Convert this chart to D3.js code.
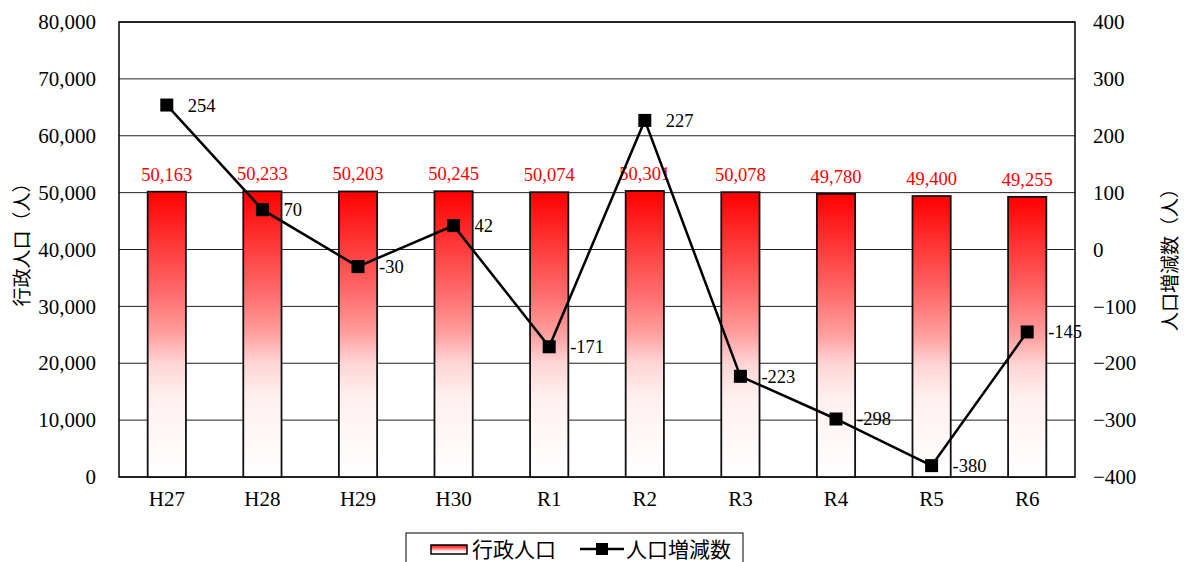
<!DOCTYPE html>
<html>
<head>
  <meta charset="utf-8">
  <title>行政人口と人口増減数</title>
  <style>
    body { margin: 0; background: #fff; }
  </style>
</head>
<body>
  <svg width="1185" height="562"></svg>

  <script src="https://cdn.jsdelivr.net/npm/d3@7/dist/d3.min.js"></script>
  <script type="text/javascript">
    var years = ['H27', 'H28', 'H29', 'H30', 'R1', 'R2', 'R3', 'R4', 'R5', 'R6']
    var population = [50163, 50233, 50203, 50245, 50074, 50301, 50078, 49780, 49400, 49255]
    var change = [254, 70, -30, 42, -171, 227, -223, -298, -380, -145]
    var leftTicks = [0, 10000, 20000, 30000, 40000, 50000, 60000, 70000, 80000]
    var rightTicks = [-400, -300, -200, -100, 0, 100, 200, 300, 400]

    var svg = d3.select('svg'),
      margin = {top: 22, right: 110, bottom: 85, left: 119},
      width = +svg.attr('width') - margin.left - margin.right,
      height = +svg.attr('height') - margin.top - margin.bottom
    var serif = '"Liberation Serif", "Times New Roman", serif'
    var cjk = '"Noto Sans CJK JP", sans-serif'

    var x = d3.scaleBand().domain(years).range([0, width]).paddingInner(0.6).paddingOuter(0.3)
    var yL = d3.scaleLinear().domain([0, 80000]).range([height, 0])
    var yR = d3.scaleLinear().domain([-400, 400]).range([height, 0])
    var cx = d => x(d) + x.bandwidth() / 2

    // red-to-white fill, fading out well before the bottom like the original
    var defs = svg.append('defs')
    var grad = defs.append('linearGradient').attr('id', 'barGrad')
      .attr('x1', 0).attr('y1', 0).attr('x2', 0).attr('y2', 1)
    ;[[0, '#ff0000'], [0.35, '#ff6a6a'], [0.5, '#ffa0a0'], [0.6, '#ffd4d4'], [0.72, '#fff0f0'], [1, '#ffffff']]
      .forEach(s => grad.append('stop').attr('offset', s[0]).attr('stop-color', s[1]))

    var g = svg.append('g').attr('transform', 'translate(' + margin.left + ',' + margin.top + ')')

    // gridlines
    g.selectAll('.grid').data(leftTicks).enter().append('line')
      .attr('x1', 0).attr('x2', width)
      .attr('y1', d => yL(d)).attr('y2', d => yL(d))
      .attr('stroke', '#222').attr('stroke-width', 1)

    // plot frame
    g.append('rect').attr('width', width).attr('height', height)
      .attr('fill', 'none').attr('stroke', '#000').attr('stroke-width', 1.5)

    // axes
    var axL = g.append('g').call(d3.axisLeft(yL).tickValues(leftTicks).tickSize(0).tickPadding(23).tickFormat(d3.format(',')))
    var axR = g.append('g').attr('transform', 'translate(' + width + ',0)')
      .call(d3.axisRight(yR).tickValues(rightTicks).tickSize(0).tickPadding(18))
    var axB = g.append('g').attr('transform', 'translate(0,' + height + ')')
      .call(d3.axisBottom(x).tickSize(0).tickPadding(14))
    ;[axL, axR, axB].forEach(a => {
      a.select('.domain').remove()
      a.selectAll('text').attr('font-family', serif).attr('font-size', 21).attr('fill', '#000')
    })
    axR.selectAll('text').attr('text-anchor', 'start')

    // bars
    g.selectAll('.bar').data(population).enter().append('rect')
      .attr('x', (d, i) => x(years[i]))
      .attr('y', d => yL(d))
      .attr('width', x.bandwidth())
      .attr('height', d => height - yL(d))
      .attr('fill', 'url(#barGrad)')
      .attr('stroke', '#111').attr('stroke-width', 1.8)

    g.selectAll('.barLabel').data(population).enter().append('text')
      .attr('x', (d, i) => cx(years[i]))
      .attr('y', d => yL(d) - 11)
      .attr('text-anchor', 'middle')
      .attr('font-family', serif).attr('font-size', 18.5).attr('fill', '#ff0000')
      .text(d => d3.format(',')(d))

    // line
    var line = d3.line().x((d, i) => cx(years[i])).y(d => yR(d))
    g.append('path').datum(change).attr('d', line)
      .attr('fill', 'none').attr('stroke', '#000').attr('stroke-width', 2.5)

    g.selectAll('.pt').data(change).enter().append('rect')
      .attr('x', (d, i) => cx(years[i]) - 6.5)
      .attr('y', d => yR(d) - 6.5)
      .attr('width', 13).attr('height', 13).attr('fill', '#000')

    g.selectAll('.ptLabel').data(change).enter().append('text')
      .attr('x', (d, i) => cx(years[i]) + 21)
      .attr('y', d => yR(d))
      .attr('dy', '0.35em')
      .attr('font-family', serif).attr('font-size', 18.5).attr('fill', '#000')
      .text(d => d)

    // axis titles
    svg.append('text')
      .attr('transform', 'translate(29,240) rotate(-90)')
      .attr('text-anchor', 'middle')
      .attr('font-family', cjk).attr('font-size', 19).attr('fill', '#000')
      .text('行政人口（人）')
    svg.append('text')
      .attr('transform', 'translate(1177,255) rotate(-90)')
      .attr('text-anchor', 'middle')
      .attr('font-family', cjk).attr('font-size', 19).attr('fill', '#000')
      .text('人口増減数（人）')

    // legend
    var lg = svg.append('g').attr('transform', 'translate(406,533)')
    lg.append('rect').attr('width', 337).attr('height', 40)
      .attr('fill', '#fff').attr('stroke', '#000').attr('stroke-width', 1)
    lg.append('rect').attr('x', 25).attr('y', 12).attr('width', 36).attr('height', 9)
      .attr('fill', 'url(#barGrad)').attr('stroke', '#000').attr('stroke-width', 1.5)
    lg.append('text').attr('x', 66).attr('y', 16).attr('dy', '0.36em')
      .attr('font-family', cjk).attr('font-size', 21).attr('fill', '#000').text('行政人口')
    lg.append('line').attr('x1', 174).attr('x2', 218).attr('y1', 16).attr('y2', 16)
      .attr('stroke', '#000').attr('stroke-width', 2.5)
    lg.append('rect').attr('x', 190).attr('y', 10).attr('width', 12).attr('height', 12).attr('fill', '#000')
    lg.append('text').attr('x', 220).attr('y', 16).attr('dy', '0.36em')
      .attr('font-family', cjk).attr('font-size', 21).attr('fill', '#000').text('人口増減数')
  </script>
</body>
</html>
